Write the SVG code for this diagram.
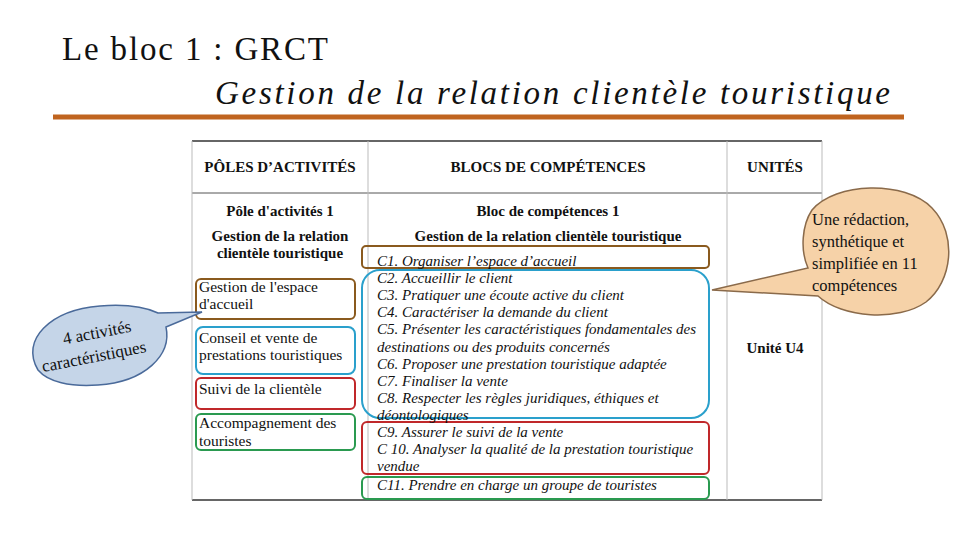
<svg xmlns="http://www.w3.org/2000/svg" width="960" height="540" viewBox="0 0 960 540">
<style>
.t{font-family:"Liberation Serif","DejaVu Serif",serif;fill:#111}
.d{font-family:"Liberation Serif",serif;fill:#111}
.h{font-family:"Liberation Serif",serif;font-weight:bold;font-size:15px;fill:#111}
.c{font-family:"Liberation Serif",serif;font-style:italic;font-size:15px;fill:#111}
.p{font-family:"Liberation Serif",serif;font-size:15.5px;fill:#111}
.grid{stroke:#bbb;stroke-width:1;fill:none}
.box{fill:none;stroke-width:2}
</style>
<rect width="960" height="540" fill="#fff"/>
<g id="title">
<text class="d" x="62" y="60" font-size="33" textLength="266" lengthAdjust="spacing">Le bloc 1 : GRCT</text>
<text class="d" x="215" y="104" font-size="33" font-style="italic" textLength="675" lengthAdjust="spacing">Gestion de la relation clientèle touristique</text>
<line x1="53" y1="117" x2="904" y2="117" stroke="#c0641f" stroke-width="5"/>
</g>
<g id="table">
<line x1="192" y1="141" x2="822" y2="141" stroke="#333" stroke-width="1.5"/>
<line x1="192" y1="500" x2="822" y2="500" stroke="#333" stroke-width="1.5"/>
<line x1="192" y1="193" x2="822" y2="193" stroke="#555" stroke-width="1"/>
<line class="grid" x1="192" y1="141" x2="192" y2="500"/>
<line class="grid" x1="368" y1="141" x2="368" y2="500"/>
<line class="grid" x1="727" y1="141" x2="727" y2="500"/>
<line class="grid" x1="822" y1="141" x2="822" y2="500"/>
<text class="h" x="280" y="172" text-anchor="middle">PÔLES D’ACTIVITÉS</text>
<text class="h" x="548" y="172" text-anchor="middle">BLOCS DE COMPÉTENCES</text>
<text class="h" x="775" y="172" text-anchor="middle">UNITÉS</text>
<text class="h" x="280" y="216" text-anchor="middle">Pôle d'activités 1</text>
<text class="h" x="280" y="241" text-anchor="middle">Gestion de la relation</text>
<text class="h" x="280" y="258" text-anchor="middle">clientèle touristique</text>
<text class="h" x="548" y="216" text-anchor="middle">Bloc de compétences 1</text>
<text class="h" x="548" y="241" text-anchor="middle">Gestion de la relation clientèle touristique</text>
<text class="h" x="775" y="353" text-anchor="middle">Unité U4</text>
</g>
<g id="activities">
<rect class="box" x="196" y="279" width="159" height="40" rx="5" stroke="#8a5a1e"/>
<text class="p" x="199" y="292">Gestion de l'espace</text>
<text class="p" x="199" y="309">d'accueil</text>
<rect class="box" x="196" y="327" width="159" height="47" rx="7" stroke="#2aa0cc"/>
<text class="p" x="199" y="343">Conseil et vente de</text>
<text class="p" x="199" y="360">prestations touristiques</text>
<rect class="box" x="196" y="378" width="159" height="31" rx="5" stroke="#c0282a"/>
<text class="p" x="199" y="394">Suivi de la clientèle</text>
<rect class="box" x="196" y="414" width="159" height="36" rx="5" stroke="#2a9a50"/>
<text class="p" x="199" y="428">Accompagnement des</text>
<text class="p" x="199" y="446">touristes</text>
</g>
<g id="competences">
<rect class="box" x="362" y="246" width="347" height="22" rx="4" stroke="#8a5a1e"/>
<rect class="box" x="362" y="270" width="347" height="148" rx="18" stroke="#2aa0cc"/>
<rect class="box" x="362" y="422" width="347" height="52" rx="5" stroke="#c0282a"/>
<rect class="box" x="362" y="477" width="347" height="22" rx="5" stroke="#2a9a50"/>
<text class="c" x="377" y="266">C1. Organiser l’espace d’accueil</text>
<text class="c" x="377" y="283">C2. Accueillir le client</text>
<text class="c" x="377" y="300">C3. Pratiquer une écoute active du client</text>
<text class="c" x="377" y="317">C4. Caractériser la demande du client</text>
<text class="c" x="377" y="334">C5. Présenter les caractéristiques fondamentales des</text>
<text class="c" x="377" y="352">destinations ou des produits concernés</text>
<text class="c" x="377" y="369">C6. Proposer une prestation touristique adaptée</text>
<text class="c" x="377" y="386">C7. Finaliser la vente</text>
<text class="c" x="377" y="403">C8. Respecter les règles juridiques, éthiques et</text>
<text class="c" x="377" y="420">déontologiques</text>
<text class="c" x="377" y="437">C9. Assurer le suivi de la vente</text>
<text class="c" x="377" y="454">C 10.  Analyser la qualité de la prestation touristique</text>
<text class="c" x="377" y="471">vendue</text>
<text class="c" x="377" y="490">C11. Prendre en charge un groupe de touristes</text>
</g>
<g id="callout-left">
<path d="M38,370 C20,340 50,310 100,306 C125,304 145,307 158,313 L202,312 L166,327 C172,355 145,382 98,385 C70,387 48,382 38,370 Z" fill="#c5d5e8" stroke="#4a6a9a" stroke-width="1.5"/>
<text class="t" x="98" y="338" font-size="17" transform="rotate(-11 98 338)" text-anchor="middle">4 activités</text>
<text class="t" x="95" y="362" font-size="17" transform="rotate(-11 95 362)" text-anchor="middle">caractéristiques</text>
</g>
<g id="callout-right">
<path d="M812,210 C835,182 905,180 932,208 C958,235 952,282 926,302 C898,322 842,318 818,296 L712,290 L808,268 C800,250 802,225 812,210 Z" fill="#f6d2a8" stroke="#8a6a4a" stroke-width="1.5"/>
<g class="t" font-size="16.5">
<text x="812" y="225">Une rédaction,</text>
<text x="812" y="247">synthétique et</text>
<text x="812" y="269">simplifiée en 11</text>
<text x="812" y="291">compétences</text>
</g>
</g>
</svg>
